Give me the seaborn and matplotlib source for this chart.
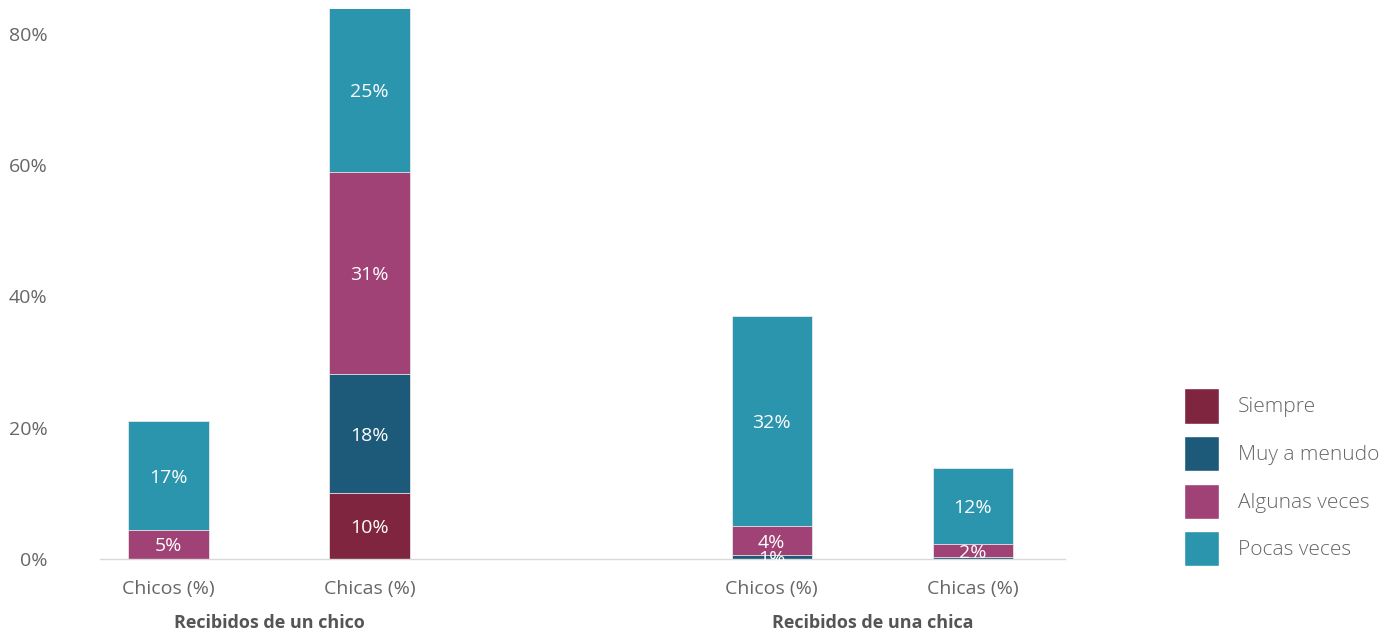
import pandas as pd
import matplotlib.pyplot as plt
import seaborn as sns
from matplotlib.patches import Patch

# datos (%) por barra
barras = ['Chicos (%)', 'Chicas (%)', 'Chicos (%)', 'Chicas (%)']
posiciones = [0, 1, 3, 4]
grupos = ['Recibidos de un chico', 'Recibidos de una chica']
siempre = [0.0, 10.1, 0.0, 0.0]
muy_a_menudo = [0.0, 18.0, 0.6, 0.3]
algunas_veces = [4.4, 30.8, 4.4, 1.9]
pocas_veces = [16.6, 25.0, 32.0, 11.7]
etiquetas = {
    'Siempre': ['', '10%', '', ''],
    'Muy a menudo': ['', '18%', '1%', ''],
    'Algunas veces': ['5%', '31%', '4%', '2%'],
    'Pocas veces': ['17%', '25%', '32%', '12%'],
}
colores = {
    'Siempre': '#7f2540',
    'Muy a menudo': '#1d5a7a',
    'Algunas veces': '#a04275',
    'Pocas veces': '#2a95ac',
}

sns.set_style('white')
plt.rcParams['font.family'] = ['Open Sans', 'DejaVu Sans']

df = pd.DataFrame({
    'pos': posiciones,
    'Siempre': siempre,
    'Muy a menudo': muy_a_menudo,
    'Algunas veces': algunas_veces,
    'Pocas veces': pocas_veces,
})
series = ['Siempre', 'Muy a menudo', 'Algunas veces', 'Pocas veces']
acum = df[series].cumsum(axis=1)

fig = plt.figure(figsize=(13.99, 6.33), dpi=100)
ax = fig.add_axes([0.0715, 0.117, 0.69, 0.869])

# apilado: dibujar acumulados de arriba hacia abajo
for s in reversed(series):
    sns.barplot(x=df['pos'], y=acum[s], native_scale=True, width=0.4,
                color=colores[s], saturation=1, edgecolor='#e8e8e8',
                linewidth=0.6, ax=ax)

for s in series:
    for i, p in enumerate(posiciones):
        txt = etiquetas[s][i]
        if txt:
            y = acum[s][i] - df[s][i] / 2
            ax.text(p, y, txt, ha='center', va='center_baseline',
                    color='white', fontsize=14)

ax.set_xlim(-0.34, 4.46)
ax.set_ylim(0, 83.8)
ax.set_yticks([0, 20, 40, 60, 80])
ax.set_yticklabels(['0%', '20%', '40%', '60%', '80%'])
ax.set_xticks(posiciones)
ax.set_xticklabels(barras)
ax.set_xlabel('')
ax.set_ylabel('')
ax.tick_params(axis='y', length=0, pad=38, labelsize=14, labelcolor='#666666')
ax.tick_params(axis='x', length=0, pad=15, labelsize=14, labelcolor='#666666')
for lado in ['left', 'right', 'top']:
    ax.spines[lado].set_visible(False)
ax.spines['bottom'].set_color('#d9d9d9')
ax.spines['bottom'].set_linewidth(1)

# etiquetas de grupo
for g, centro in zip(grupos, [0.5, 3.5]):
    ax.text(centro, -0.116, g, transform=ax.get_xaxis_transform(),
            ha='center', va='center', fontsize=13, fontweight='bold',
            color='#555555')

handles = [Patch(facecolor=colores[s], label=s) for s in series]
fig.legend(handles=handles, loc='center left', bbox_to_anchor=(0.833, 0.246),
           frameon=False, prop={'size': 15, 'weight': 'light'},
           handlelength=1.68, handleheight=2.21,
           labelspacing=0.6, handletextpad=0.9, labelcolor='#666666')

fig.savefig('out.png', dpi=100)
